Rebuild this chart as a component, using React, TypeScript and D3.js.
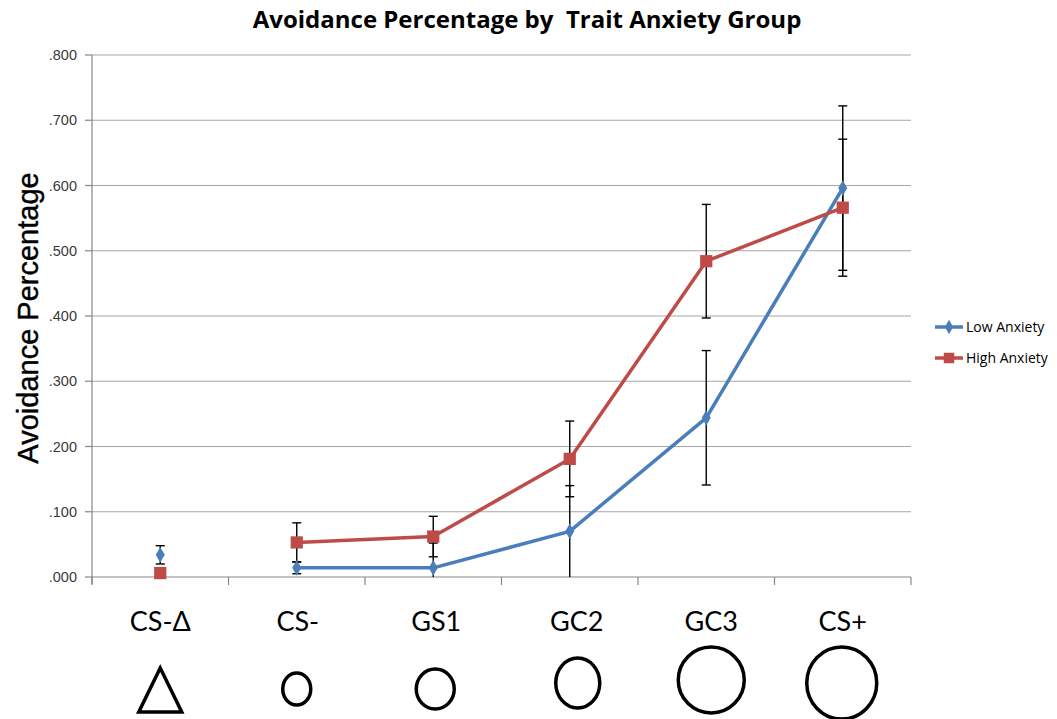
import React from "react";
import * as d3 from "d3";

// Stimulus categories along the generalization gradient
const categories = ["CS-Δ", "CS-", "GS1", "GC2", "GC3", "CS+"];

// Mean avoidance proportion per category
const lowAnxiety = [0.034, 0.014, 0.014, 0.07, 0.244, 0.596];
const highAnxiety = [0.006, 0.053, 0.062, 0.181, 0.484, 0.566];

// Error bar half-widths
const lowAnxietyErr = [0.014, 0.009, 0.038, 0.07, 0.103, 0.126];
const highAnxietyErr = [0.004, 0.03, 0.031, 0.058, 0.087, 0.105];

// Y axis tick values and labels
const yTicks = [0, 0.1, 0.2, 0.3, 0.4, 0.5, 0.6, 0.7, 0.8];
const yTickLabels = [".000", ".100", ".200", ".300", ".400", ".500", ".600", ".700", ".800"];

// Stimulus glyphs under each category: a triangle for CS-Δ, then circles growing in size
const glyphKinds = ["triangle", "circle", "circle", "circle", "circle", "circle"];

// Glyph layout (offset from category centre, vertical centre, radii)
const glyphDx = [0, 0, 2, 8, 5, -1];
const glyphCy = [690, 689, 689, 683, 680, 683];
const glyphRx = [21.5, 14, 19, 22, 33, 35];
const glyphRy = [22, 16, 20, 25, 33, 36];
// Small horizontal nudges of the category captions
const labelDx = [0, 1, 3, 7, 5, 0];

const W = 1057;
const H = 719;
const plotLeft = 92;
const plotRight = 911;
const plotTop = 55;
const plotBottom = 577;

const BLUE = "#4a7ebb";
const RED = "#be4b48";

// The CS-Δ control is plotted on its own, the line starts at CS-
const lineStart = 1;

export default function App() {
  const x = d3.scaleBand<string>().domain(categories).range([plotLeft, plotRight]);
  const cx = (i: number) => (x(categories[i]) as number) + x.bandwidth() / 2;
  const y = d3.scaleLinear().domain([0, 0.8]).range([plotBottom, plotTop]);

  const line = d3
    .line<number>()
    .defined((_, i) => i >= lineStart)
    .x((_, i) => cx(i))
    .y((d) => y(d));

  const diamond = d3.symbol().type(d3.symbolDiamond).size(70)() as string;
  const square = d3.symbol().type(d3.symbolSquare).size(150)() as string;
  const legendDiamond = d3.symbol().type(d3.symbolDiamond).size(60)() as string;
  const legendSquare = d3.symbol().type(d3.symbolSquare).size(110)() as string;

  const errBars = (vals: number[], errs: number[], key: string) =>
    vals.map((v, i) => {
      const top = y(v + errs[i]);
      const bot = y(Math.max(0, v - errs[i]));
      const xc = cx(i);
      return (
        <g key={key + i} stroke="#000" strokeWidth={1.4}>
          <line x1={xc} x2={xc} y1={top} y2={bot} />
          <line x1={xc - 4.5} x2={xc + 4.5} y1={top} y2={top} />
          {v - errs[i] > 0 && <line x1={xc - 4.5} x2={xc + 4.5} y1={bot} y2={bot} />}
        </g>
      );
    });

  const boundaries = [plotLeft, ...categories.map((c) => (x(c) as number) + x.bandwidth())];

  return (
    <svg
      width={W}
      height={H}
      style={{ position: "absolute", left: 0, top: 0, background: "#fff" }}
    >
      {/* title */}
      <text
        x={527}
        y={28}
        textAnchor="middle"
        fontFamily="'Open Sans', Lato, sans-serif"
        fontWeight={700}
        fontSize={24}
        fill="#000"
        xmlSpace="preserve"
      >
        {"Avoidance Percentage by  Trait Anxiety Group"}
      </text>

      {/* y axis title */}
      <text
        transform={`translate(38,${(plotTop + plotBottom) / 2 + 2}) rotate(-90)`}
        textAnchor="middle"
        fontFamily="'Liberation Sans', Arial, sans-serif"
        fontSize={29}
        fill="#000"
        stroke="#000"
        strokeWidth={0.4}
      >
        Avoidance Percentage
      </text>

      {/* gridlines */}
      {yTicks.map((t) =>
        t === 0 ? null : (
          <line
            key={"g" + t}
            x1={plotLeft}
            x2={plotRight}
            y1={y(t)}
            y2={y(t)}
            stroke="#a6a6a6"
            strokeWidth={1.2}
          />
        )
      )}

      {/* y axis */}
      <line x1={plotLeft} x2={plotLeft} y1={plotTop} y2={plotBottom + 7} stroke="#868686" strokeWidth={1.2} />
      {yTicks.map((t, i) => (
        <g key={"yt" + t}>
          <line x1={plotLeft - 7} x2={plotLeft} y1={y(t)} y2={y(t)} stroke="#868686" strokeWidth={1.2} />
          <text
            x={plotLeft - 15}
            y={y(t) + 5}
            textAnchor="end"
            fontFamily="'Liberation Sans', Arial, sans-serif"
            fontSize={14.5}
            fill="#3a3a3a"
          >
            {yTickLabels[i]}
          </text>
        </g>
      ))}

      {/* x axis */}
      <line x1={plotLeft} x2={plotRight} y1={plotBottom} y2={plotBottom} stroke="#868686" strokeWidth={1.2} />
      {boundaries.map((b, i) => (
        <line key={"xt" + i} x1={b} x2={b} y1={plotBottom} y2={plotBottom + 8} stroke="#868686" strokeWidth={1.2} />
      ))}

      {/* error bars */}
      {errBars(lowAnxiety, lowAnxietyErr, "le")}
      {errBars(highAnxiety, highAnxietyErr, "he")}

      {/* series lines */}
      <path d={line(lowAnxiety) as string} fill="none" stroke={BLUE} strokeWidth={3.5} strokeLinejoin="round" />
      <path d={line(highAnxiety) as string} fill="none" stroke={RED} strokeWidth={3.5} strokeLinejoin="round" />

      {/* markers */}
      {lowAnxiety.map((v, i) => (
        <path key={"lm" + i} d={diamond} transform={`translate(${cx(i)},${y(v)})`} fill={BLUE} />
      ))}
      {highAnxiety.map((v, i) => (
        <path key={"hm" + i} d={square} transform={`translate(${cx(i)},${y(v)})`} fill={RED} />
      ))}

      {/* category labels */}
      {categories.map((c, i) => (
        <text
          key={"cl" + c}
          x={cx(i) + labelDx[i]}
          y={631}
          textAnchor="middle"
          fontFamily="Lato, 'Open Sans', sans-serif"
          fontSize={27}
          fill="#000"
        >
          {c}
        </text>
      ))}

      {/* stimulus glyphs */}
      {categories.map((c, i) => {
        const xc = cx(i) + glyphDx[i];
        if (glyphKinds[i] === "triangle") {
          const top = glyphCy[i] - glyphRy[i];
          const bottom = glyphCy[i] + glyphRy[i];
          const pts = [
            [xc, top],
            [xc + glyphRx[i], bottom],
            [xc - glyphRx[i], bottom],
          ];
          return (
            <polygon
              key={"gl" + c}
              points={pts.map((p) => p.join(",")).join(" ")}
              fill="none"
              stroke="#000"
              strokeWidth={3.5}
              strokeLinejoin="miter"
            />
          );
        }
        return (
          <ellipse
            key={"gl" + c}
            cx={xc}
            cy={glyphCy[i]}
            rx={glyphRx[i]}
            ry={glyphRy[i]}
            fill="none"
            stroke="#000"
            strokeWidth={3.5}
          />
        );
      })}

      {/* legend */}
      <g fontFamily="'Open Sans', Lato, sans-serif" fontSize={14} fill="#000">
        <line x1={935} x2={963} y1={327} y2={327} stroke={BLUE} strokeWidth={3.5} />
        <path d={legendDiamond} transform="translate(949,327)" fill={BLUE} />
        <text x={966} y={332}>Low Anxiety</text>
        <line x1={935} x2={963} y1={358} y2={358} stroke={RED} strokeWidth={3.5} />
        <path d={legendSquare} transform="translate(949,358)" fill={RED} />
        <text x={966} y={363}>High Anxiety</text>
      </g>
    </svg>
  );
}
